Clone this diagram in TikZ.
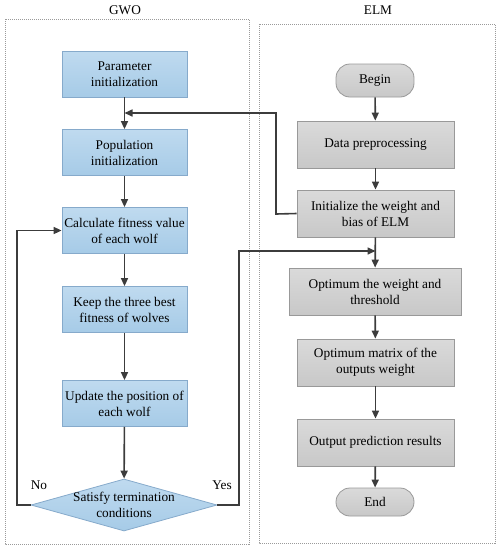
\documentclass[tikz,border=0pt]{standalone}
\usepackage{fontspec}
\setmainfont{Liberation Serif}
\usetikzlibrary{arrows.meta,shapes.geometric}
\definecolor{bluetop}{HTML}{BFDAEF}
\definecolor{bluebot}{HTML}{A6CBE7}
\definecolor{blueedge}{HTML}{86AACB}
\definecolor{greytop}{HTML}{DADADA}
\definecolor{greybot}{HTML}{C8C8C8}
\definecolor{greyedge}{HTML}{999999}
\definecolor{arr}{HTML}{3C3C3C}
\definecolor{dotc}{HTML}{9A9A9A}
\tikzset{
  every node/.style={font=\fontsize{13.3}{16}\selectfont, align=center, inner sep=0pt},
  bluebox/.style={rectangle, draw=blueedge, line width=0.8pt, top color=bluetop, bottom color=bluebot, minimum width=125pt, minimum height=46pt},
  greybox/.style={rectangle, draw=greyedge, line width=0.8pt, top color=greytop, bottom color=greybot, minimum width=157pt, minimum height=47pt},
  term/.style={rectangle, rounded corners=14pt, draw=greyedge, line width=0.8pt, top color=greytop, bottom color=greybot, minimum width=78pt},
  conn/.style={draw=arr, line width=1.6pt, -{Triangle[length=8pt,width=7pt]}},
  frame/.style={draw=dotc, line width=0.7pt, dash pattern=on 1pt off 1pt},
}
\begin{document}
\begin{tikzpicture}[x=1pt,y=-1pt]
\useasboundingbox (0,0) rectangle (500,550);
% frames
\draw[frame] (5,19) rectangle (249,544);
\draw[frame] (259,24) rectangle (495,543);
\node (tg) at (125,10) {GWO};
\node (te) at (378,10) {ELM};
% GWO
\node[bluebox] (p1) at (124.5,74) {Parameter\\initialization};
\node[bluebox] (p2) at (124.5,152.5) {Population\\initialization};
\node[bluebox] (p3) at (124.5,230.5) {Calculate fitness value\\of each wolf};
\node[bluebox] (p4) at (124.5,309.5) {Keep the three best\\fitness of wolves};
\node[bluebox] (p5) at (124.5,403.5) {Update the position of\\each wolf};
\node[diamond, draw=blueedge, line width=0.8pt, top color=bluetop, bottom color=bluebot, minimum width=186pt, minimum height=52pt, aspect=3.58] (d) at (124,505) {};
\node (dt) at (124,504.5) {Satisfy termination\\conditions};
\node (no) at (39,485) {No};
\node (yes) at (222,485) {Yes};
% ELM
\node[term, minimum height=33pt] (b) at (375,80.5) {Begin};
\node[greybox] (e1) at (375.5,144.5) {Data preprocessing};
\node[greybox] (e2) at (375.5,213.5) {Initialize the weight and\\bias of ELM};
\node[greybox, minimum width=172pt] (e3) at (375,291.5) {Optimum the weight and\\threshold};
\node[greybox] (e4) at (375.5,362.5) {Optimum matrix of the\\outputs weight};
\node[greybox] (e5) at (375.5,442.5) {Output prediction results};
\node[term, minimum height=28pt] (en) at (375,502) {End};
% connectors GWO
\draw[conn] (p1) -- (p2);
\draw[conn] (p2) -- (p3);
\draw[conn] (p3) -- (p4);
\draw[conn] (p4) -- (p5);
\draw[conn] (p5) -- (d);
\coordinate (nol) at (17,505);
\draw[conn] (d.west) -- (nol) |- (p3.west);
\coordinate (yesr) at (239,251);
\draw[conn] (d.east) -| (yesr) -- (e2.south |- yesr);
% ELM
\draw[conn] (b) -- (e1);
\draw[conn] (e1) -- (e2);
\draw[conn] (e2) -- (e3);
\draw[conn] (e3) -- (e4);
\draw[conn] (e4) -- (e5);
\draw[conn] (e5) -- (en);
\coordinate (bk) at (276,214);
\coordinate (bt) at (276,113);
\draw[conn] (e2.west) -- (bk) -- (bt) -- (p1.south |- bt);
\end{tikzpicture}
\end{document}
